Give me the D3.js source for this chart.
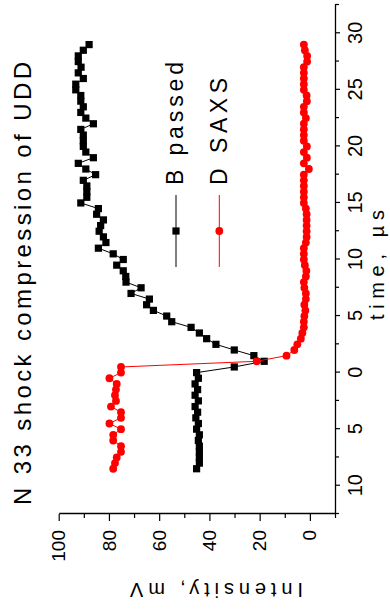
<!DOCTYPE html>
<html><head><meta charset="utf-8">
<script src="https://cdn.jsdelivr.net/npm/d3@7"></script>
<style>html,body{margin:0;padding:0;background:#fff;} svg{display:block;font-family:"Liberation Sans",Arial,sans-serif;}</style>
</head><body>
<svg id="c" width="390" height="614"></svg>
<script>
const times = [-8.5,-8,-7.5,-7,-6.5,-6,-5.5,-5,-4.5,-4,-3.5,-3,-2.5,-2,-1.5,-1,-0.5,0,
  0.5,1,1.5,2,2.5,3,3.5,4,4.5,5,5.5,6,6.5,7,7.5,8,8.5,9,9.5,10,10.5,11,11.5,12,12.5,13,13.5,14,14.5,
  15,15.5,16,16.5,17,17.5,18,18.5,19,19.5,20,20.5,21,21.5,22,22.5,23,23.5,24,24.5,25,25.5,26,26.5,27,27.5,28,28.5,29];
const bPassed = [45.1,44.0,44.0,44.0,44.0,44.4,44.0,45.1,44.4,45.4,44.7,45.7,44.4,45.7,44.7,45.7,44.4,45.1,
  30.1,18.2,22.3,30.1,37.4,41.1,44.0,47.3,55.0,57.0,62.3,65.0,63.9,71.2,67.2,73.2,73.3,74.3,76.9,74.3,78.3,84.2,81.2,82.2,83.9,83.3,82.2,84.9,84.2,
  91.2,88.8,88.8,88.8,90.2,85.3,89.2,92.2,86.2,89.2,90.2,90.2,90.2,91.2,86.2,89.2,91.2,90.2,91.2,91.2,93.2,93.2,90.2,92.2,91.1,92.2,92.2,90.2,87.9];
const dSaxs = [78.3,77.6,76.9,75.2,75.2,78.3,78.3,75.2,79.8,75.2,75.2,79.2,77.2,77.6,77.2,76.9,79.8,75.2,
  75.2,21.2,9.3,6.2,5.0,3.6,3.0,2.4,2.4,2.2,1.8,2.2,1.6,1.6,2.2,2.4,1.6,1.4,2.0,2.4,2.4,2.4,1.6,1.3,1.3,1.3,1.3,1.3,1.6,
  2.4,2.4,2.4,2.4,2.4,2.4,0.4,2.4,1.2,2.4,1.2,2.4,2.4,2.4,2.4,1.6,2.4,2.4,1.2,1.3,2.4,2.4,2.4,2.4,2.4,1.1,1.1,2.0,2.4];
const timeTicks = [30,25,20,15,10,5,0,-5,-10];
const timeTickLabels = ["30","25","20","15","10","5","0","5","10"];
const timeMinorTicks = [32.5,27.5,22.5,17.5,12.5,7.5,2.5,-2.5,-7.5,-12.5];
const intensityTicks = [100,80,60,40,20,0];
const intensityTickLabels = ["100","80","60","40","20","0"];
const intensityMinorTicks = [90,70,50,30,10,-10];
const seriesNames = ["B passed","D SAXS"];
const seriesColors = ["#000000","#ff0000"];
const title = "N 33 shock compression of UDD";
const xTitle = "time, \u00b5s";
const yTitle = "Intensity, mV";

const svg = d3.select("#c");
const g = svg.append("g").attr("transform","translate(0,614) rotate(-90)");
const x = d3.scaleLinear().domain([-12.5,32.5]).range([100,609]);
const y = d3.scaleLinear().domain([-10,100]).range([335,58.7]);

// time axis (inner bottom)
const xa = g.append("g").attr("transform","translate(0,335)")
  .call(d3.axisBottom(x).tickValues(timeTicks).tickSize(5).tickSizeOuter(0)
    .tickFormat((d,i)=>timeTickLabels[i]));
xa.selectAll("text").attr("y",27).attr("dy",0).attr("font-size",20).attr("font-family","Liberation Sans, Arial, sans-serif").attr("fill","#000");
g.append("g").attr("transform","translate(0,335)")
  .call(d3.axisBottom(x).tickValues(timeMinorTicks).tickSize(4).tickSizeOuter(0).tickFormat(""))
  .select(".domain").remove();

// intensity axis (inner left)
const ya = g.append("g").attr("transform","translate(100,0)")
  .call(d3.axisLeft(y).tickValues(intensityTicks).tickSize(7).tickPadding(9).tickSizeOuter(0)
    .tickFormat((d,i)=>intensityTickLabels[i]));
ya.selectAll("text").attr("font-size",19).attr("font-family","Liberation Sans, Arial, sans-serif").attr("fill","#000");
g.append("g").attr("transform","translate(100,0)")
  .call(d3.axisLeft(y).tickValues(intensityMinorTicks).tickSize(4).tickSizeOuter(0).tickFormat(""))
  .select(".domain").remove();
g.selectAll(".domain").attr("stroke-width",1.3).attr("stroke","#000");
g.selectAll(".tick line").attr("stroke-width",1.2).attr("stroke","#000");

const line = d3.line().x(d=>x(d.t)).y(d=>y(d.v));
const bData = times.map((t,i)=>({t, v:bPassed[i]}));
const dData = times.map((t,i)=>({t, v:dSaxs[i]}));

g.append("path").datum(bData).attr("d",line).attr("fill","none").attr("stroke","#000").attr("stroke-width",1);
g.append("g").selectAll("rect").data(bData).join("rect")
  .attr("x",d=>x(d.t)-3.6).attr("y",d=>y(d.v)-3.6).attr("width",7.2).attr("height",7.2).attr("fill","#000");

g.append("path").datum(dData).attr("d",line).attr("fill","none").attr("stroke","#ff0000").attr("stroke-width",1);
g.append("g").selectAll("circle").data(dData).join("circle")
  .attr("cx",d=>x(d.t)).attr("cy",d=>y(d.v)).attr("r",3.9).attr("fill","#ff0000");

// legend
const legY = [176, 219.3];
const legTextY = [182.5, 226.5];
const legLen = [123, 107];
seriesNames.forEach((name,i)=>{
  g.append("line").attr("x1",347).attr("x2",419).attr("y1",legY[i]).attr("y2",legY[i])
    .attr("stroke",seriesColors[i]).attr("stroke-width",1);
  if(i===0){
    g.append("rect").attr("x",383-3.6).attr("y",legY[i]-3.6).attr("width",7.2).attr("height",7.2).attr("fill",seriesColors[i]);
  } else {
    g.append("circle").attr("cx",383).attr("cy",legY[i]).attr("r",3.9).attr("fill",seriesColors[i]);
  }
  g.append("text").attr("x",429).attr("y",legTextY[i]).attr("font-size",23)
    .attr("textLength",legLen[i]).attr("lengthAdjust","spacing").attr("fill","#000").text(name);
});

// title
g.append("text").attr("x",109).attr("y",31).attr("font-size",24)
  .attr("textLength",443).attr("lengthAdjust","spacing").attr("fill","#000").text(title);

// axis titles
g.append("text").attr("x",294).attr("y",384).attr("font-size",20)
  .attr("textLength",110).attr("lengthAdjust","spacing").attr("fill","#000").text(xTitle);
g.append("text").attr("transform","translate(31,216.5) rotate(-90)").attr("text-anchor","middle")
  .attr("font-size",20).attr("textLength",173).attr("lengthAdjust","spacing").attr("fill","#000").text(yTitle);
</script>
</body></html>
